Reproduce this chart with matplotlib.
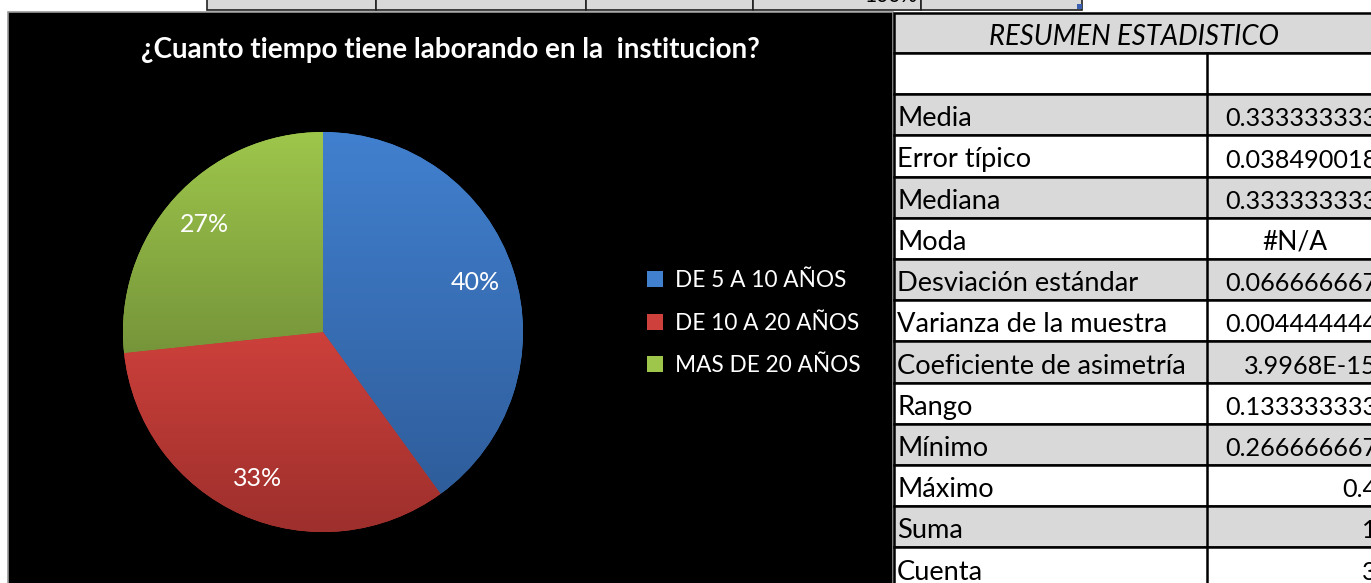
import matplotlib.pyplot as plt
import numpy as np
from matplotlib.patches import Rectangle
from matplotlib.colors import LinearSegmentedColormap

plt.rcParams['font.family'] = ['Lato', 'DejaVu Sans']

# pie data
categories = ['DE 5 A 10 AÑOS', 'DE 10 A 20 AÑOS', 'MAS DE 20 AÑOS']
shares = [0.4, 0.3333333333, 0.2666666667]
top_colors = ['#4180cf', '#cd403b', '#9ec64b']
bottom_colors = ['#2f5d9b', '#9d2f2c', '#76953a']
title = '¿Cuanto tiempo tiene laborando en la  institucion?'

# summary table next to the chart
table_title = 'RESUMEN ESTADISTICO'
stat_labels = ['', 'Media', 'Error típico', 'Mediana', 'Moda',
               'Desviación estándar', 'Varianza de la muestra',
               'Coeficiente de asimetría', 'Rango', 'Mínimo', 'Máximo',
               'Suma', 'Cuenta']
stat_values = ['', '0.333333333', '0.038490018', '0.333333333', '#N/A',
               '0.066666667', '0.004444444', '3.9968E-15', '0.133333333',
               '0.266666667', '0.4', '1', '3']

W, H = 1371, 583
fig = plt.figure(figsize=(W / 100, H / 100), dpi=100)
fig.patch.set_facecolor('white')

# pixel-space background axes for the sheet pieces
bg = fig.add_axes([0, 0, 1, 1])
bg.set_xlim(0, W)
bg.set_ylim(H, 0)
bg.axis('off')

# strip of spreadsheet cells above the chart
cell_edges = [207, 376, 586, 753, 921, 1082]
for x0, x1 in zip(cell_edges[:-1], cell_edges[1:]):
    bg.add_patch(Rectangle((x0, -2), x1 - x0, 12, facecolor='#d9d9d9',
                           edgecolor='#222222', lw=1.2))
bg.text(917, 6, '100%', ha='right', va='bottom', fontsize=15, color='black',
        clip_on=True)
bg.add_patch(Rectangle((1077, 4), 5, 5, facecolor='#3b5fb0', lw=0))

# black chart area
bg.add_patch(Rectangle((8, 12), 885, 580, facecolor='black',
                       edgecolor='#9a9a9a', lw=1.2))

# table
tx0, tx_div = 894, 1207
bg.add_patch(Rectangle((tx0, 13), 600, 40, facecolor='#d9d9d9',
                       edgecolor='black', lw=1.8))
bg.text(1134, 37, table_title, ha='center', va='center', fontsize=19.8,
        style='italic', color='black')
row_top = 53
row_h = 41.2
for i, (lab, val) in enumerate(zip(stat_labels, stat_values)):
    y0 = row_top + i * row_h
    shade = '#d9d9d9' if i % 2 == 1 else 'white'
    bg.add_patch(Rectangle((tx0, y0), 600, row_h, facecolor=shade,
                           edgecolor='black', lw=1.8))
    yc = y0 + row_h / 2 + 4
    bg.text(897, yc, lab, ha='left', va='center', fontsize=19.6,
            color='black', clip_on=True)
    if val == '#N/A':
        bg.text(1295, yc, val, ha='center', va='center', fontsize=19,
                color='black', clip_on=True)
    else:
        bg.text(1377, yc, val, ha='right', va='center', fontsize=18.2,
                color='black', clip_on=True)
bg.plot([tx_div, tx_div], [row_top, H + 5], color='black', lw=1.8)

# title
fig.text(450 / W, 1 - 50 / H, title, ha='center', va='center',
         fontsize=20, fontweight='bold', color='white')

# pie
cx, cy, r = 323, 332, 200
pax = fig.add_axes([(cx - r) / W, 1 - (cy + r) / H, 2 * r / W, 2 * r / H])
pax.set_facecolor('black')
wedges, texts, autotexts = pax.pie(shares, colors=top_colors, startangle=90,
                                   counterclock=False, autopct='%1.0f%%',
                                   pctdistance=0.8, radius=1,
                                   wedgeprops=dict(lw=0),
                                   textprops=dict(color='white', fontsize=18))
pax.set_xlim(-1, 1)
pax.set_ylim(-1, 1)
pax.axis('off')

# vertical gradient inside each slice
grad = np.linspace(0, 1, 256).reshape(-1, 1)
for w, c0, c1 in zip(wedges, top_colors, bottom_colors):
    ext = w.get_path().get_extents()
    cmap = LinearSegmentedColormap.from_list('g', [c1, c0])
    im = pax.imshow(grad, cmap=cmap, origin='lower', aspect='auto',
                    extent=[ext.x0, ext.x1, ext.y0, ext.y1], zorder=1.5)
    im.set_clip_path(w)
pax.set_xlim(-1, 1)
pax.set_ylim(-1, 1)
for t in autotexts:
    t.set_zorder(3)

# legend
fig.legend(wedges, categories, loc='center left',
           bbox_to_anchor=(627 / W, 1 - 323 / H), frameon=False,
           labelcolor='white', fontsize=16.3, handlelength=0.7,
           handleheight=0.7, handletextpad=0.5, labelspacing=0.95)

fig.savefig('out.png', dpi=100, facecolor='white')
